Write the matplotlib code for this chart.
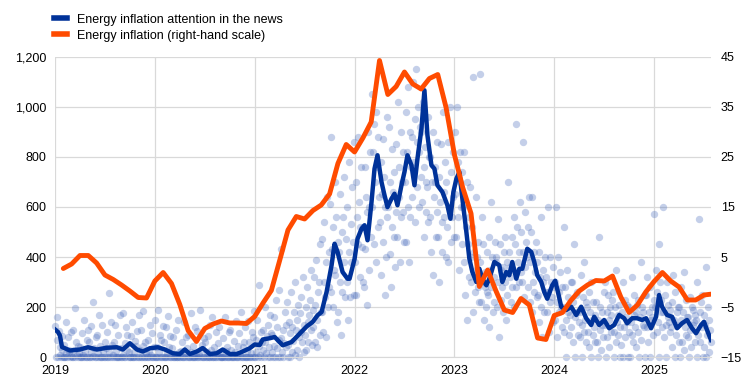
import numpy as np
import matplotlib
matplotlib.use("Agg")
import matplotlib.pyplot as plt
from matplotlib.ticker import FuncFormatter, FixedLocator

plt.rcParams["font.family"] = ["Liberation Sans", "DejaVu Sans"]

BLUE = "#003299"
ORANGE = "#ff4b00"
DOT = "#3d62b8"

# energy inflation (HICP energy, % y/y), monthly, Jan 2019 - Jul 2025
infl_2019 = [2.7, 3.6, 5.3, 5.3, 3.8, 1.4, 0.5, -0.6, -1.8, -3.1, -3.2, 0.2]
infl_2020 = [1.9, -0.3, -4.5, -9.7, -11.9, -9.3, -8.4, -7.8, -8.2, -8.2, -8.3, -6.9]
infl_2021 = [-4.2, -1.7, 4.3, 10.4, 13.1, 12.6, 14.3, 15.4, 17.6, 23.7, 27.5, 26.0]
infl_2022 = [28.8, 32.0, 44.3, 37.5, 39.1, 42.0, 39.6, 38.6, 40.7, 41.5, 34.9, 25.5]
infl_2023 = [18.9, 13.7, -0.9, 2.4, -1.8, -5.6, -6.1, -3.3, -4.6, -11.2, -11.5, -6.7]
infl_2024 = [-6.1, -3.7, -1.8, -0.6, 0.3, 0.2, 1.2, -3.0, -6.1, -4.6, -2.0, 0.1]
infl_2025 = [1.9, 0.2, -1.0, -3.6, -3.6, -2.6, -2.4]

# smoothed news attention (decimal year, level)
attn_t = [2019.00, 2019.03, 2019.05, 2019.07, 2019.15, 2019.25, 2019.33, 2019.42,
          2019.52, 2019.62, 2019.68, 2019.75, 2019.82, 2019.88, 2019.95, 2020.03,
          2020.10, 2020.18, 2020.25, 2020.30, 2020.35, 2020.42, 2020.48, 2020.55,
          2020.62, 2020.68, 2020.75, 2020.82, 2020.88, 2020.95, 2021.00, 2021.05,
          2021.08, 2021.15, 2021.20, 2021.28, 2021.37, 2021.45, 2021.52, 2021.58,
          2021.63, 2021.67, 2021.72, 2021.77, 2021.80, 2021.83, 2021.88, 2021.93,
          2021.95, 2022.00, 2022.03, 2022.07, 2022.10, 2022.13, 2022.17, 2022.20,
          2022.23, 2022.27, 2022.30, 2022.33, 2022.37, 2022.40, 2022.43, 2022.47,
          2022.50, 2022.53, 2022.57, 2022.60, 2022.63, 2022.67, 2022.70, 2022.73,
          2022.77, 2022.80, 2022.83, 2022.88, 2022.93, 2022.96, 2022.99, 2023.02,
          2023.05, 2023.08, 2023.12, 2023.15, 2023.18, 2023.22, 2023.25, 2023.28,
          2023.32, 2023.35, 2023.40, 2023.45, 2023.48, 2023.52, 2023.55, 2023.58,
          2023.62, 2023.65, 2023.68, 2023.73, 2023.77, 2023.80, 2023.83, 2023.87,
          2023.90, 2023.93, 2023.98, 2024.01, 2024.04, 2024.07, 2024.12, 2024.17,
          2024.22, 2024.27, 2024.32, 2024.37, 2024.40, 2024.45, 2024.50, 2024.55,
          2024.60, 2024.65, 2024.70, 2024.73, 2024.78, 2024.83, 2024.88, 2024.92,
          2024.97, 2025.02, 2025.05, 2025.08, 2025.13, 2025.18, 2025.23, 2025.28,
          2025.33, 2025.38, 2025.42, 2025.47, 2025.50, 2025.53, 2025.57]
attn_v = [110, 100, 85, 40, 26, 30, 39, 30,
          37, 39, 30, 55, 30, 22, 35, 39,
          30, 15, 12, 30, 12, 22, 36, 12,
          15, 30, 12, 12, 22, 35, 50, 48,
          70, 75, 80, 47, 60, 93, 122, 140,
          167, 180, 260, 367, 453, 420, 340, 313,
          313, 392, 473, 513, 527, 467, 620, 753,
          807, 700, 647, 600, 633, 653, 607, 687,
          740, 807, 767, 687, 793, 913, 1067, 887,
          767, 753, 687, 660, 607, 553, 660, 713,
          740, 633, 500, 393, 340, 300, 353, 313,
          287, 313, 380, 367, 300, 340, 327, 380,
          313, 353, 353, 433, 420, 380, 327, 300,
          260, 233, 287, 305, 255, 201, 188, 201,
          168, 201, 155, 128, 161, 128, 148, 115,
          128, 168, 155, 135, 155, 155, 148, 155,
          115, 161, 248, 201, 168, 161, 115, 135,
          148, 115, 95, 128, 141, 108, 68]

# daily attention readings (12 per month)
dots_2019 = [
    [125, 0, 70, 160, 0, 105, 40, 10, 0, 30, 85, 0],
    [0, 50, 0, 140, 15, 0, 80, 30, 20, 0, 100, 5],
    [0, 110, 0, 30, 195, 0, 60, 10, 45, 0, 15, 0],
    [40, 0, 95, 0, 10, 150, 0, 25, 0, 70, 0, 110],
    [0, 60, 0, 125, 20, 0, 220, 5, 35, 0, 80, 0],
    [90, 0, 15, 170, 0, 45, 0, 130, 0, 25, 0, 60],
    [0, 35, 0, 100, 0, 255, 20, 0, 140, 0, 50, 10],
    [60, 0, 130, 0, 25, 0, 90, 0, 0, 170, 0, 35],
    [0, 175, 10, 0, 55, 0, 120, 30, 90, 0, 20, 0],
    [0, 85, 0, 140, 0, 20, 0, 65, 0, 45, 105, 0],
    [170, 0, 30, 0, 110, 0, 45, 185, 0, 60, 0, 15],
    [0, 70, 0, 25, 0, 130, 10, 0, 95, 0, 40, 0]]
dots_2020 = [
    [150, 0, 40, 0, 190, 20, 0, 90, 0, 70, 0, 125],
    [0, 60, 0, 120, 0, 15, 165, 0, 40, 0, 85, 0],
    [35, 0, 80, 0, 10, 0, 110, 0, 0, 150, 0, 20],
    [0, 25, 0, 60, 0, 140, 0, 15, 80, 0, 35, 0],
    [90, 0, 0, 175, 20, 0, 45, 0, 0, 120, 0, 10],
    [0, 105, 0, 10, 0, 190, 30, 0, 50, 0, 75, 0],
    [60, 0, 20, 0, 85, 0, 0, 130, 0, 30, 160, 0],
    [0, 40, 0, 100, 0, 15, 0, 55, 120, 0, 20, 0],
    [0, 0, 75, 0, 160, 0, 25, 0, 40, 0, 100, 0],
    [110, 0, 30, 0, 0, 65, 0, 20, 0, 145, 0, 45],
    [0, 95, 0, 10, 180, 0, 40, 0, 60, 0, 120, 0],
    [25, 0, 145, 0, 60, 0, 15, 100, 0, 80, 0, 185]]
dots_2021 = [
    [0, 70, 20, 150, 0, 290, 45, 10, 100, 0, 60, 30],
    [110, 0, 60, 200, 15, 85, 0, 130, 40, 170, 0, 95],
    [20, 90, 0, 160, 45, 0, 230, 35, 120, 0, 70, 270],
    [0, 75, 430, 20, 110, 0, 55, 180, 130, 40, 220, 0],
    [50, 140, 0, 95, 260, 20, 120, 65, 180, 10, 300, 110],
    [150, 30, 210, 80, 0, 175, 100, 240, 60, 320, 130, 20],
    [90, 200, 30, 280, 140, 60, 170, 230, 110, 350, 50, 190],
    [120, 320, 60, 210, 390, 150, 40, 260, 300, 90, 450, 180],
    [180, 470, 100, 300, 540, 240, 80, 380, 640, 200, 420, 280],
    [610, 260, 880, 430, 200, 520, 350, 700, 330, 560, 140, 460],
    [180, 420, 650, 300, 90, 500, 260, 560, 380, 720, 240, 470],
    [300, 600, 150, 780, 420, 240, 530, 380, 680, 460, 250, 860]]
dots_2022 = [
    [380, 700, 250, 560, 880, 450, 620, 320, 520, 760, 440, 300],
    [520, 280, 760, 430, 640, 210, 580, 900, 350, 600, 820, 480],
    [1050, 600, 820, 450, 930, 700, 380, 980, 760, 520, 880, 640],
    [540, 780, 330, 650, 870, 460, 720, 250, 600, 400, 960, 560],
    [600, 920, 410, 700, 280, 830, 520, 660, 480, 740, 360, 580],
    [850, 480, 1020, 640, 760, 380, 900, 560, 700, 580, 820, 460],
    [700, 980, 460, 820, 1080, 600, 380, 900, 560, 760, 880, 640],
    [1100, 780, 950, 540, 1150, 860, 680, 1000, 820, 600, 920, 720],
    [900, 620, 1020, 760, 480, 840, 700, 580, 680, 960, 540, 800],
    [560, 800, 420, 700, 900, 330, 640, 760, 700, 480, 860, 580],
    [480, 720, 300, 620, 850, 540, 420, 980, 660, 560, 780, 400],
    [700, 520, 860, 380, 600, 1000, 460, 740, 560, 820, 640, 480]]
dots_2023 = [
    [900, 650, 480, 1000, 560, 780, 350, 700, 820, 600, 740, 450],
    [600, 380, 820, 250, 520, 700, 150, 450, 560, 320, 680, 400],
    [300, 520, 180, 1120, 420, 260, 640, 350, 400, 280, 460, 220],
    [1130, 380, 220, 560, 300, 450, 150, 280, 340, 200, 420, 260],
    [250, 480, 120, 350, 620, 280, 400, 180, 320, 220, 460, 380],
    [400, 200, 550, 300, 80, 450, 350, 230, 280, 360, 180, 420],
    [300, 480, 150, 380, 250, 700, 420, 320, 360, 220, 480, 280],
    [350, 560, 200, 450, 930, 280, 520, 380, 420, 300, 620, 340],
    [500, 300, 860, 420, 240, 580, 360, 460, 400, 520, 280, 640],
    [380, 220, 500, 640, 180, 300, 420, 260, 340, 460, 240, 380],
    [250, 420, 140, 320, 560, 200, 80, 350, 300, 180, 400, 260],
    [320, 180, 600, 260, 100, 400, 220, 300, 240, 360, 140, 280]]
dots_2024 = [
    [300, 150, 600, 220, 80, 400, 180, 260, 340, 200, 120, 280],
    [200, 520, 100, 280, 150, 0, 350, 180, 240, 90, 170, 300],
    [120, 300, 60, 220, 450, 160, 0, 250, 180, 260, 90, 140],
    [180, 80, 330, 130, 0, 240, 100, 380, 150, 220, 60, 200],
    [100, 260, 40, 180, 0, 300, 150, 90, 220, 120, 170, 60],
    [220, 60, 150, 0, 480, 110, 200, 30, 130, 180, 80, 260],
    [130, 300, 0, 180, 80, 250, 150, 40, 200, 100, 170, 230],
    [260, 100, 0, 200, 60, 350, 140, 90, 170, 210, 120, 0],
    [50, 180, 300, 0, 120, 230, 80, 160, 140, 210, 0, 100],
    [200, 0, 140, 320, 90, 60, 250, 170, 120, 180, 40, 210],
    [100, 230, 0, 160, 380, 70, 200, 130, 180, 120, 250, 0],
    [250, 120, 320, 60, 180, 0, 280, 150, 200, 160, 90, 230]]
dots_2025 = [
    [570, 200, 350, 100, 260, 140, 450, 0, 300, 180, 230, 120],
    [180, 600, 80, 250, 130, 0, 300, 160, 210, 140, 190, 100],
    [120, 220, 40, 330, 150, 0, 260, 90, 180, 130, 200, 60],
    [200, 0, 150, 280, 60, 180, 30, 340, 120, 230, 90, 160],
    [80, 160, 0, 240, 110, 40, 200, 130, 190, 140, 60, 170],
    [150, 0, 300, 90, 550, 180, 60, 220, 120, 250, 0, 170],
    [40, 130, 0, 360, 90, 200, 20, 150, 110, 60, 180, 0]]

years = [2019, 2020, 2021, 2022, 2023, 2024, 2025]
infl_by_year = [infl_2019, infl_2020, infl_2021, infl_2022, infl_2023, infl_2024, infl_2025]
dots_by_year = [dots_2019, dots_2020, dots_2021, dots_2022, dots_2023, dots_2024, dots_2025]
x_end = 2025.57


def dot_series():
    xs, ys = [], []
    for yr, months in zip(years, dots_by_year):
        for m, vals in enumerate(months):
            n = len(vals)
            for i, v in enumerate(vals):
                xs.append(yr + m / 12 + (i + 0.5) / (12 * n))
                ys.append(v)
    return np.array(xs), np.array(ys)


def infl_series():
    xs, ys = [], []
    for yr, vals in zip(years, infl_by_year):
        for m, v in enumerate(vals):
            xs.append(yr + (m + 1) / 12)  # month end
            ys.append(v)
    return np.array(xs), np.array(ys)


fig = plt.figure(figsize=(7.44, 3.88), dpi=100)
ax = fig.add_axes([55 / 744, 31 / 388, 656 / 744, 300 / 388])

dx, dy = dot_series()
m = dx <= x_end
ax.scatter(dx[m], dy[m], s=28, color=DOT, alpha=0.3, linewidths=0, zorder=2, clip_on=False)
ax.plot(attn_t, attn_v, color=BLUE, lw=3.2, solid_joinstyle="round", zorder=3)

ax.set_xlim(2019, x_end)
ax.set_ylim(0, 1200)
ax.set_yticks(range(0, 1201, 200))
ax.yaxis.set_major_formatter(FuncFormatter(lambda v, p: f"{int(v):,}"))
ax.set_xticks(years)
ax.set_xticklabels([str(y) for y in years])
ax.grid(True, color="#d9d9d9", lw=0.9, zorder=0)
ax.set_axisbelow(True)
for s in ["top", "right", "left"]:
    ax.spines[s].set_visible(False)
ax.spines["bottom"].set_color("#d9d9d9")
ax.tick_params(length=0, labelsize=9, colors="#000000", pad=6)

ax2 = ax.twinx()
ix, iy = infl_series()
ax2.plot(ix, iy, color=ORANGE, lw=3.5, solid_joinstyle="round", solid_capstyle="round", zorder=4)
ax2.set_ylim(-15, 45)
ax2.yaxis.set_major_locator(FixedLocator(range(-15, 46, 10)))
for s in ["top", "right", "left", "bottom"]:
    ax2.spines[s].set_visible(False)
ax2.tick_params(length=0, labelsize=9, pad=7)

h1, = ax.plot([], [], color=BLUE, lw=4)
h2, = ax.plot([], [], color=ORANGE, lw=4)
fig.legend([h1, h2], ["Energy inflation attention in the news", "Energy inflation (right-hand scale)"],
           loc="upper left", bbox_to_anchor=(0.061, 0.987), frameon=False, fontsize=9,
           handlelength=1.0, handletextpad=0.8, labelspacing=0.3, borderaxespad=0.3)

fig.savefig("out.png", dpi=100)
